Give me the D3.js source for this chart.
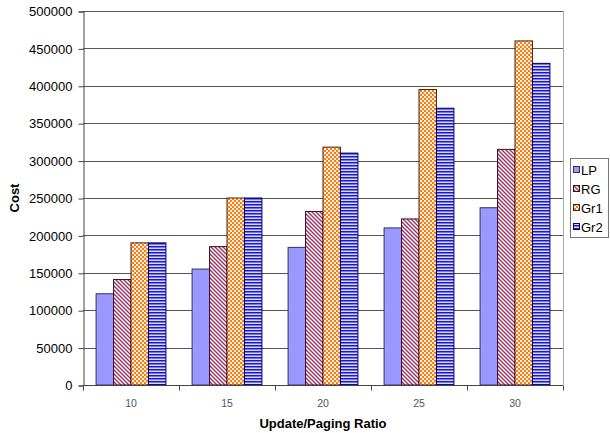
<!DOCTYPE html>
<html>
<head>
<meta charset="utf-8">
<script src="https://cdn.jsdelivr.net/npm/d3@7"></script>
<style>
  html, body { margin: 0; padding: 0; background: #fff; }
  svg { display: block; font-family: "Liberation Sans", Arial, sans-serif; }
</style>
</head>
<body>
<svg id="chart" width="610" height="433"></svg>
<script>
const categories = ["10", "15", "20", "25", "30"];
const seriesNames = ["LP", "RG", "Gr1", "Gr2"];
const LP  = [122000, 155000, 184000, 210000, 237000];
const RG  = [141000, 185000, 232000, 222000, 315000];
const Gr1 = [190000, 250000, 318000, 395000, 460000];
const Gr2 = [190000, 250000, 310000, 370000, 430000];
const yTicks = [0, 50000, 100000, 150000, 200000, 250000, 300000, 350000, 400000, 450000, 500000];
const seriesValues = [LP, RG, Gr1, Gr2];

const svg = d3.select("#chart");
const plot = {left: 83, right: 563, top: 11, bottom: 385};

// patterns
const defs = svg.append("defs");
const pRG = defs.append("pattern").attr("id", "pRG").attr("patternUnits", "userSpaceOnUse")
  .attr("width", 4).attr("height", 4);
pRG.append("rect").attr("width", 4).attr("height", 4).attr("fill", "#ffffff");
pRG.append("path").attr("d", "M-1,-1 L5,5 M-1,3 L1,5 M3,-1 L5,1")
  .attr("stroke", "#993366").attr("stroke-width", 1.4);

const pGr1 = defs.append("pattern").attr("id", "pGr1").attr("patternUnits", "userSpaceOnUse")
  .attr("width", 4).attr("height", 4);
pGr1.append("rect").attr("width", 4).attr("height", 4).attr("fill", "#ff7a10");
pGr1.append("rect").attr("x", 0).attr("y", 0).attr("width", 2).attr("height", 2).attr("fill", "#fff3e6");
pGr1.append("rect").attr("x", 2).attr("y", 2).attr("width", 2).attr("height", 2).attr("fill", "#fff3e6");

const pGr2 = defs.append("pattern").attr("id", "pGr2").attr("patternUnits", "userSpaceOnUse")
  .attr("width", 4).attr("height", 3);
pGr2.append("rect").attr("width", 4).attr("height", 3).attr("fill", "#d6d6ff");
pGr2.append("rect").attr("y", 0).attr("width", 4).attr("height", 1.5).attr("fill", "#1a1acc");

const fills = ["#9999ff", "url(#pRG)", "url(#pGr1)", "url(#pGr2)"];
const strokes = ["#333355", "#331122", "#442211", "#000066"];

const x = d3.scaleBand().domain(categories).range([plot.left, plot.right]).padding(0);
const bw = x.bandwidth();
const barW = bw / (4 + 1.5);
const xs = d3.scaleBand().domain(seriesNames).range([barW * 0.75, bw - barW * 0.75]).padding(0);
const y = d3.scaleLinear().domain([0, 500000]).range([plot.bottom, plot.top]);

// gridlines
svg.append("g").selectAll("line").data(yTicks.filter(d => d > 0)).join("line")
  .attr("x1", plot.left).attr("x2", plot.right)
  .attr("y1", d => Math.round(y(d)) + 0.5).attr("y2", d => Math.round(y(d)) + 0.5)
  .attr("stroke", "#555").attr("stroke-width", 1);

// right plot border
svg.append("line").attr("x1", plot.right + 0.5).attr("x2", plot.right + 0.5)
  .attr("y1", plot.top).attr("y2", plot.bottom).attr("stroke", "#aaa");

// bars
seriesNames.forEach((s, si) => {
  svg.append("g").selectAll("rect").data(categories.map((c, i) => ({c, v: seriesValues[si][i]}))).join("rect")
    .attr("x", d => x(d.c) + xs(s))
    .attr("width", xs.bandwidth())
    .attr("y", d => y(d.v))
    .attr("height", d => plot.bottom - y(d.v))
    .attr("fill", fills[si])
    .attr("stroke", strokes[si]).attr("stroke-width", 1);
});

// y axis
const yAxis = d3.axisLeft(y).tickValues(yTicks).tickSize(5).tickPadding(6).tickFormat(d3.format("d"));
const gy = svg.append("g").attr("transform", `translate(${plot.left + 0.5},0.5)`).call(yAxis);
gy.select(".domain").attr("stroke", "#444");
gy.selectAll(".tick line").attr("stroke", "#444");
gy.selectAll("text").attr("font-size", 13).attr("fill", "#000")
  .attr("font-family", "'Liberation Sans', Arial, sans-serif");

// x axis with boundary ticks
const gx = svg.append("g").attr("transform", `translate(0,${plot.bottom + 0.5})`);
gx.append("line").attr("x1", plot.left).attr("x2", plot.right).attr("stroke", "#444");
const bounds = categories.map(c => x(c)).concat([plot.right]);
gx.selectAll("line.tk").data(bounds).join("line").attr("class", "tk")
  .attr("x1", d => Math.round(d) + 0.5).attr("x2", d => Math.round(d) + 0.5)
  .attr("y1", 0).attr("y2", 5).attr("stroke", "#444");
gx.selectAll("text").data(categories).join("text")
  .attr("x", d => x(d) + bw / 2).attr("y", 21)
  .attr("text-anchor", "middle").attr("font-size", 10.5).attr("fill", "#555")
  .text(d => d);

// axis titles
svg.append("text").attr("x", (plot.left + plot.right) / 2).attr("y", 428)
  .attr("text-anchor", "middle").attr("font-size", 13).attr("font-weight", "bold")
  .text("Update/Paging Ratio");
svg.append("text").attr("transform", `translate(19,${(plot.top + plot.bottom) / 2}) rotate(-90)`)
  .attr("text-anchor", "middle").attr("font-size", 13).attr("font-weight", "bold")
  .text("Cost");

// legend
const lg = svg.append("g");
lg.append("rect").attr("x", 570.5).attr("y", 158.5).attr("width", 38).attr("height", 79)
  .attr("fill", "#fff").attr("stroke", "#777");
seriesNames.forEach((s, i) => {
  const cy = 170 + i * 19;
  lg.append("rect").attr("x", 573.5).attr("y", cy - 3.5).attr("width", 6).attr("height", 6)
    .attr("fill", fills[i]).attr("stroke", strokes[i]);
  lg.append("text").attr("x", 581).attr("y", cy + 4.5).attr("font-size", 13).text(s);
});
</script>
</body>
</html>
